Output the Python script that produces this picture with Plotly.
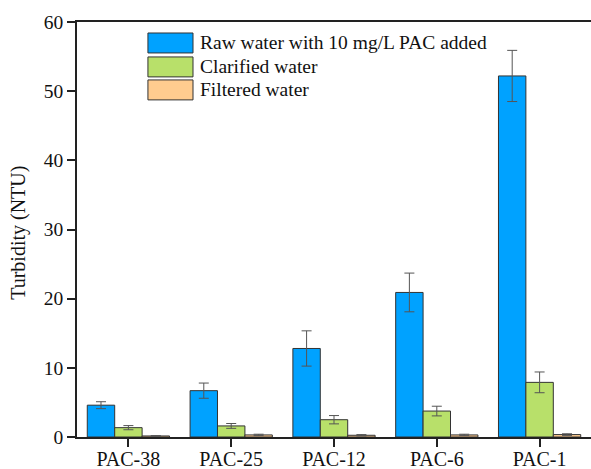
import plotly.graph_objects as go

categories = ["PAC-38", "PAC-25", "PAC-12", "PAC-6", "PAC-1"]
series_names = ["Raw water with 10 mg/L PAC added", "Clarified water", "Filtered water"]
y_title = "Turbidity (NTU)"
raw_vals = [4.6, 6.7, 12.8, 20.9, 52.2]
raw_err = [0.5, 1.1, 2.55, 2.8, 3.7]
clar_vals = [1.35, 1.6, 2.5, 3.75, 7.9]
clar_err = [0.3, 0.35, 0.6, 0.7, 1.5]
filt_vals = [0.15, 0.3, 0.25, 0.3, 0.35]
filt_err = [0.05, 0.1, 0.1, 0.1, 0.12]
colors = ["#00A2FF", "#B8E06A", "#FFCC8F"]

FONT = "Liberation Serif, Times New Roman, serif"
fig = go.Figure()
for name, vals, errs, col in zip(series_names, [raw_vals, clar_vals, filt_vals],
                                 [raw_err, clar_err, filt_err], colors):
    fig.add_trace(go.Bar(
        x=categories, y=vals, name=name,
        marker=dict(color=col, line=dict(color="#333333", width=1)),
        error_y=dict(type="data", array=errs, visible=True,
                     color="#555555", thickness=1, width=5),
        showlegend=False,
    ))

# manual legend (large swatches like the reference)
sw_x0, sw_x1 = 0.138, 0.2257
sw_tops = [0.9735, 0.9158, 0.8604]
sw_h = 0.0481
for name, col, top in zip(series_names, colors, sw_tops):
    fig.add_shape(type="rect", xref="paper", yref="paper",
                  x0=sw_x0, x1=sw_x1, y0=top - sw_h, y1=top,
                  fillcolor=col, line=dict(color="#333333", width=1))
    fig.add_annotation(xref="paper", yref="paper", x=0.2354, y=top - sw_h / 2,
                       text=name, showarrow=False, xanchor="left", yanchor="middle",
                       font=dict(family=FONT, size=19.5, color="#111111"))

# y-axis title as rotated annotation
fig.add_annotation(xref="paper", yref="paper", x=-0.1128, y=0.492,
                   text=y_title, textangle=-90, showarrow=False,
                   xanchor="center", yanchor="middle",
                   font=dict(family=FONT, size=20, color="#111111"))

fig.update_layout(
    width=591, height=469,
    margin=dict(l=77, r=0, t=22, b=32),
    paper_bgcolor="white", plot_bgcolor="white",
    barmode="group", bargap=0.2, bargroupgap=0,
    font=dict(family=FONT, size=19, color="#111111"),
)
fig.update_xaxes(
    range=[-0.5, 4.5], showline=True, linecolor="#222222", linewidth=1.5,
    mirror=True, ticks="outside", ticklen=8, tickwidth=1.5, tickcolor="#222222",
    showgrid=False, automargin=False, ticklabelstandoff=-5,
    tickfont=dict(family=FONT, size=20, color="#111111"),
)
fig.update_yaxes(
    range=[0, 60], tickvals=[0, 10, 20, 30, 40, 50, 60],
    showline=True, linecolor="#222222", linewidth=1.5,
    ticks="outside", ticklen=8, tickwidth=1.5, tickcolor="#222222",
    showgrid=False, zeroline=False, automargin=False,
    tickfont=dict(family=FONT, size=19.5, color="#111111"),
)
fig.write_html("out.html")
